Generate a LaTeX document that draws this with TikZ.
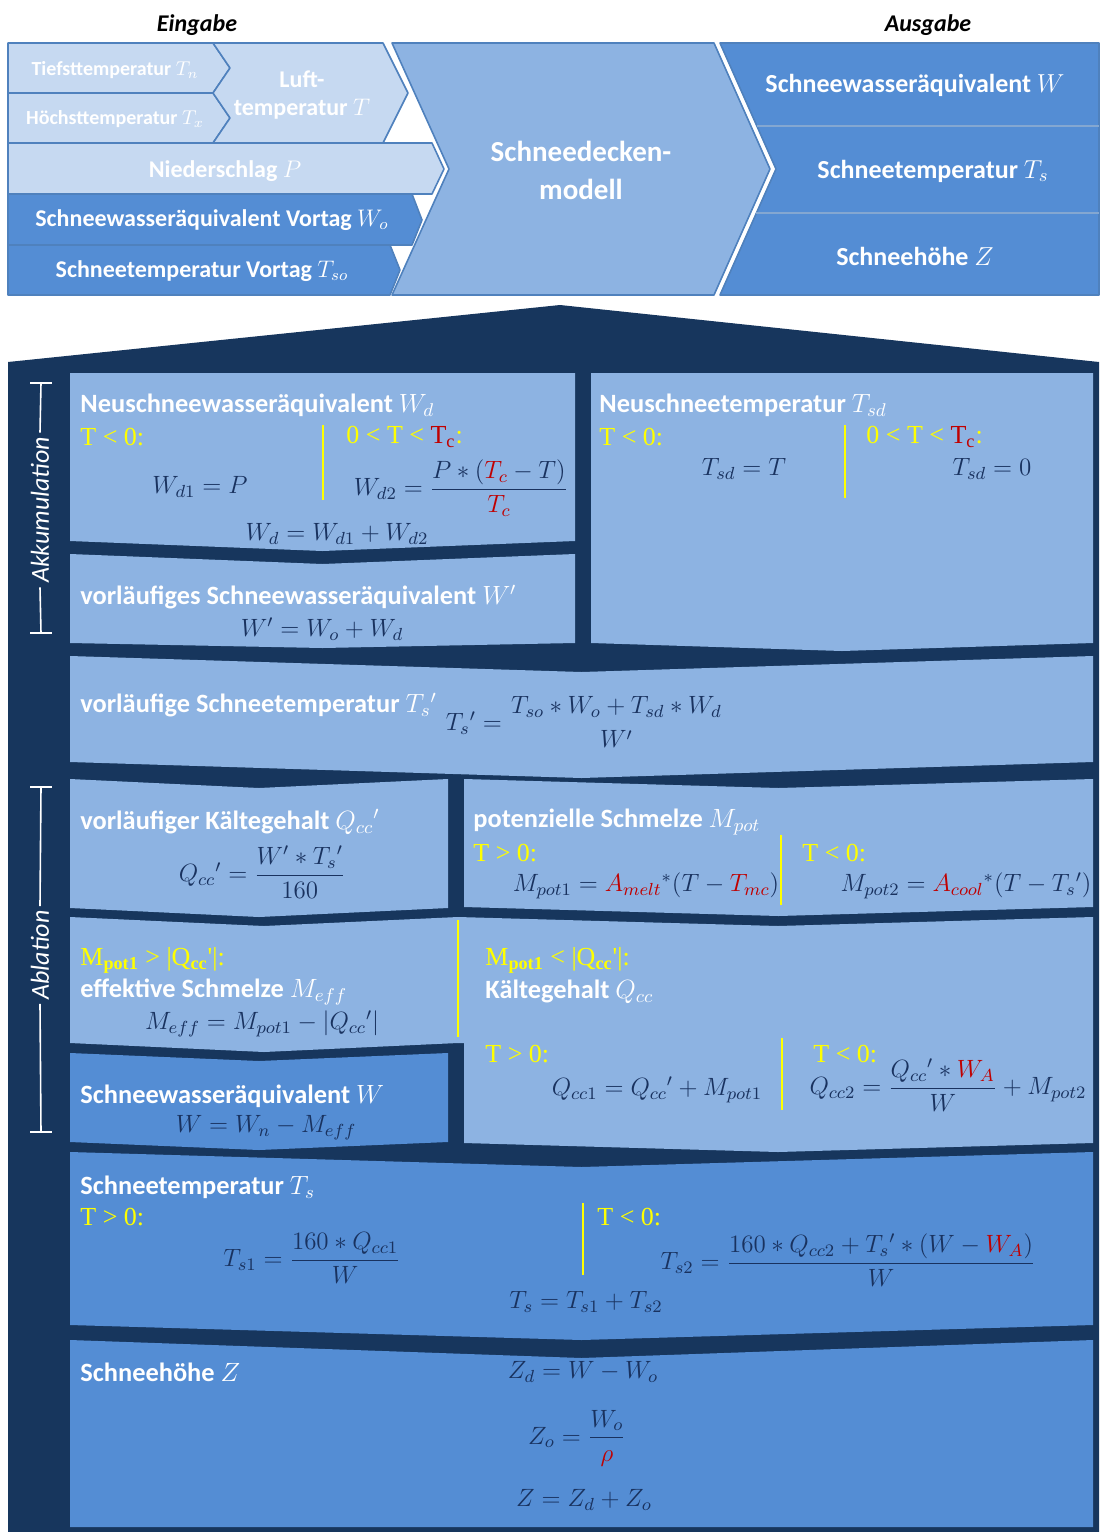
\RequirePackage{fix-cm}
\documentclass[tikz,border=0pt]{standalone}
\usepackage[no-math]{fontspec}
\usepackage{amsmath}
\setmainfont{Carlito}
\newfontfamily\serifschrift{Liberation Serif}
\usetikzlibrary{positioning}
\definecolor{hellblau}{RGB}{198,217,241}
\definecolor{mittelblau}{RGB}{141,179,226}
\definecolor{dunkelblau}{RGB}{84,141,212}
\definecolor{nachtblau}{RGB}{23,54,93}
\definecolor{rahmen}{RGB}{79,129,189}
\definecolor{gelb}{RGB}{255,255,0}
\definecolor{rot}{RGB}{192,0,0}
\definecolor{formelblau}{RGB}{25,50,95}
% Feld: Kerbe oben, Spitze unten (x1, x2, y oben, Tiefe oben, y unten, Tiefe unten, Farbe)
\newcommand{\chevfeld}[7]{%
  \fill[#7] (#1,#3) -- ({(#1+#2)/2},{#3+#4}) -- (#2,#3) -- (#2,#5) -- ({(#1+#2)/2},{#5+#6}) -- (#1,#5) -- cycle;}

\begin{document}
\begin{tikzpicture}[x=0.5pt, y=-0.5pt,
		titel/.style={text=black, font=\bfseries\itshape\fontsize{12}{14}\selectfont},
		ein/.style={text=white, font=\bfseries\fontsize{12}{14}\selectfont, align=center, inner sep=0pt},
		klein/.style={ein, font=\bfseries\fontsize{10}{12}\selectfont},
		aus/.style={ein, font=\bfseries\fontsize{13}{15}\selectfont},
		kopf/.style={anchor=west, text=white, font=\bfseries\fontsize{13.2}{15}\selectfont, inner sep=0pt},
		bedingung/.style={anchor=west, text=gelb, font=\serifschrift\fontsize{13}{15}\selectfont, inner sep=0pt},
		formel/.style={text=formelblau, font=\fontsize{12.5}{15}\selectfont, inner sep=0pt},
		phase/.style={text=white, font=\itshape\fontsize{13}{15}\selectfont, rotate=90, inner sep=2pt},
		rand/.style={draw=rahmen, line width=0.8pt, line join=round},
		trennlinie/.style={draw=rahmen!70!white, line width=0.8pt},
		gelblinie/.style={draw=gelb, line width=1pt},
		klammer/.style={draw=white, line width=0.8pt}]
	\useasboundingbox (0,0) rectangle (1099,1532);
	% Ueberschriften
	\node[titel] (eingabe) at (197,25) {Eingabe};
	\node[titel] (ausgabe) at (928,25) {Ausgabe};
	% Eingabegroessen
	\path[rand, fill=hellblau] (8,43) -- (213,43) -- (230,68) -- (213,93) -- (8,93) -- cycle;
	\path[rand, fill=hellblau] (8,93) -- (213,93) -- (230,118) -- (213,143) -- (8,143) -- cycle;
	\path[rand, fill=hellblau] (213,43) -- (383,43) -- (408,93) -- (383,143) -- (213,143) -- (230,118) -- (213,93) -- (230,68) -- cycle;
	\path[rand, fill=hellblau] (8,143) -- (432,143) -- (444,169) -- (432,194) -- (8,194) -- cycle;
	\path[rand, fill=dunkelblau] (8,194) -- (412,194) -- (422,220) -- (412,245) -- (8,245) -- cycle;
	\path[rand, fill=dunkelblau] (8,245) -- (390,245) -- (400,270) -- (390,295) -- (8,295) -- cycle;
	% Modell und Ausgabe
	\path[rand, fill=mittelblau] (392,43) -- (714,43) -- (770,169) -- (714,295) -- (392,295) -- (449,169) -- cycle;
	\path[rand, fill=dunkelblau] (720,43) -- (1099,43) -- (1099,295) -- (720,295) -- (776,169) -- cycle;
	\draw[trennlinie] (757,126) -- (1099,126);
	\draw[trennlinie] (756,213) -- (1099,213);
	\node[klein] (tn) at (115,70) {Tiefsttemperatur $T_n$};
	\node[klein] (tx) at (115,119) {Höchsttemperatur $T_x$};
	\node[ein] (luft) at (302,95) {Luft-\\temperatur $T$};
	\node[ein] (nieder) at (225,171) {Niederschlag $P$};
	\node[ein] (wo) at (212,220) {Schneewasseräquivalent Vortag $W_o$};
	\node[ein] (tso) at (202,271) {Schneetemperatur Vortag $T_{so}$};
	\node[ein, font=\bfseries\fontsize{14.5}{19}\selectfont] (modell) at (581,170) {Schneedecken-\\modell};
	\node[aus] (ausw) at (915,85) {Schneewasseräquivalent $W$};
	\node[aus] (austs) at (933,171) {Schneetemperatur $T_s$};
	\node[aus] (ausz) at (915,256) {Schneehöhe $Z$};
	% Hintergrund Modellteil
	\fill[nachtblau] (8,362) -- (560,305) -- (1099,362) -- (1099,1532) -- (8,1532) -- cycle;
	% Akkumulation
	\chevfeld{70}{575}{373}{0}{541}{10}{mittelblau}
	\chevfeld{70}{575}{554}{10}{643}{5}{mittelblau}
	\chevfeld{591}{1093}{373}{0}{643}{8}{mittelblau}
	\chevfeld{70}{1093}{656}{16}{762}{16}{mittelblau}
	% Ablation
	\chevfeld{70}{448}{779}{9}{908}{9}{mittelblau}
	\chevfeld{464}{1093}{779}{9}{907}{9}{mittelblau}
	\chevfeld{70}{458}{917}{9}{1043}{9}{mittelblau}
	\fill[mittelblau] (458,917) -- (778,926) -- (1093,917) -- (1093,1143) -- (778,1152) -- (464,1143) -- (464,1043) -- (458,1043) -- cycle;
	\chevfeld{70}{448}{1053}{8}{1142}{8}{dunkelblau}
	\chevfeld{70}{1093}{1152}{15}{1325}{15}{dunkelblau}
	\chevfeld{70}{1093}{1340}{18}{1527}{0}{dunkelblau}
	% Phasen am linken Rand
	\node[phase] (akku) at (40,510) {Akkumulation};
	\node[phase] (abl) at (40,955) {Ablation};
	\coordinate (akkuoben) at (41,383);
	\coordinate (akkuunten) at (41,633);
	\coordinate (abloben) at (41,787);
	\coordinate (ablunten) at (41,1132);
	\draw[klammer] (akku.east) -- (akkuoben);
	\draw[klammer] (akku.west) -- (akkuunten);
	\draw[klammer] (abl.east) -- (abloben);
	\draw[klammer] (abl.west) -- (ablunten);
	\foreach \p in {akkuoben, akkuunten, abloben, ablunten}
		\draw[klammer] ([xshift=-5.5pt]\p) -- ([xshift=5.5pt]\p);
	% Neuschneewasseraequivalent
	\node[kopf] (kwd) at (80,405) {Neuschneewasseräquivalent $W_d$};
	\node[bedingung] (bwdeins) at (80,437) {T < 0:};
	\node[bedingung] (bwdzwei) at (346,437) {0 < T < \textcolor{rot}{T\textsubscript{c}}:};
	\draw[gelblinie] (323,425) -- (323,500);
	\node[formel] (wdeins) at (200,487) {$W_{d1} = P$};
	\node[formel] (wdzwei) at (461,488) {$W_{d2} = \dfrac{P * (\textcolor{rot}{T_c} - T)}{\textcolor{rot}{T_c}}$};
	\node[formel] (wdsumme) at (337,534) {$W_d = W_{d1} + W_{d2}$};
	\node[kopf] (kwstrich) at (80,597) {vorläufiges Schneewasseräquivalent $W'$};
	\node[formel] (wstrich) at (322,629) {$W' = W_o + W_d$};
	% Neuschneetemperatur
	\node[kopf] (ktsd) at (599,405) {Neuschneetemperatur $T_{sd}$};
	\node[bedingung] (btsdeins) at (599,437) {T < 0:};
	\node[bedingung] (btsdzwei) at (866,437) {0 < T < \textcolor{rot}{T\textsubscript{c}}:};
	\draw[gelblinie] (845,425) -- (845,498);
	\node[formel] (tsdeins) at (744,469) {$T_{sd} = T$};
	\node[formel] (tsdzwei) at (992,469) {$T_{sd} = 0$};
	% vorlaeufige Schneetemperatur
	\node[kopf] (ktsstrich) at (80,705) {vorläufige Schneetemperatur $T_s{}'$};
	\node[formel] (tsstrich) at (585,722) {$T_s{}' = \genfrac{}{}{0pt}{0}{T_{so} * W_o + T_{sd} * W_d}{W'}$};
	% Kaeltegehalt und Schmelze
	\node[kopf] (kqccstrich) at (80,822) {vorläufiger Kältegehalt $Q_{cc}{}'$};
	\node[formel] (qccstrich) at (262,872) {$Q_{cc}{}' = \dfrac{W' * T_s{}'}{160}$};
	\node[kopf] (kmpot) at (473,822) {potenzielle Schmelze $M_{pot}$};
	\node[bedingung] (bmpoteins) at (473,853) {T > 0:};
	\node[bedingung] (bmpotzwei) at (802,853) {T < 0:};
	\draw[gelblinie] (781,835) -- (781,905);
	\node[formel] (mpoteins) at (646,886) {$M_{pot1} = \textcolor{rot}{A_{melt}}{}^{*}(T - \textcolor{rot}{T_{mc}})$};
	\node[formel] (mpotzwei) at (966,886) {$M_{pot2} = \textcolor{rot}{A_{cool}}{}^{*}(T - T_s{}')$};
	\node[bedingung] (bmeff) at (80,960) {M\textsubscript{\textbf{pot1}} > |Q\textsubscript{\textbf{cc}}'|:};
	\node[kopf] (kmeff) at (80,992) {effektive Schmelze $M_{eff}$};
	\node[formel] (meff) at (262,1024) {$M_{eff} = M_{pot1} - |Q_{cc}{}'|$};
	\draw[gelblinie] (458,920) -- (458,1037);
	\node[bedingung] (bqcc) at (485,960) {M\textsubscript{\textbf{pot1}} < |Q\textsubscript{\textbf{cc}}'|:};
	\node[kopf] (kqcc) at (485,992) {Kältegehalt $Q_{cc}$};
	\node[bedingung] (bqcceins) at (485,1054) {T > 0:};
	\node[bedingung] (bqcczwei) at (813,1054) {T < 0:};
	\draw[gelblinie] (782,1038) -- (782,1110);
	\node[formel] (qcceins) at (657,1090) {$Q_{cc1} = Q_{cc}{}' + M_{pot1}$};
	\node[formel] (qcczwei) at (948,1085) {$Q_{cc2} = \dfrac{Q_{cc}{}' * \textcolor{rot}{W_A}}{W} + M_{pot2}$};
	\node[kopf] (kw) at (80,1096) {Schneewasseräquivalent $W$};
	\node[formel] (wneu) at (266,1128) {$W = W_n - M_{eff}$};
	% Schneetemperatur
	\node[kopf] (kts) at (80,1187) {Schneetemperatur $T_s$};
	\node[bedingung] (btseins) at (80,1217) {T > 0:};
	\node[bedingung] (btszwei) at (597,1217) {T < 0:};
	\draw[gelblinie] (583,1203) -- (583,1275);
	\node[formel] (tseins) at (312,1258) {$T_{s1} = \dfrac{160 * Q_{cc1}}{W}$};
	\node[formel] (tszwei) at (848,1260) {$T_{s2} = \dfrac{160 * Q_{cc2} + T_s{}' * (W - \textcolor{rot}{W_A})}{W}$};
	\node[formel] (tssumme) at (586,1302) {$T_s = T_{s1} + T_{s2}$};
	% Schneehoehe
	\node[kopf] (kz) at (80,1372) {Schneehöhe $Z$};
	\node[formel] (zd) at (583,1372) {$Z_d = W - W_o$};
	\node[formel] (zo) at (577,1438) {$Z_o = \dfrac{W_o}{\textcolor{rot}{\rho}}$};
	\node[formel] (z) at (584,1500) {$Z = Z_d + Z_o$};
\end{tikzpicture}
\end{document}
